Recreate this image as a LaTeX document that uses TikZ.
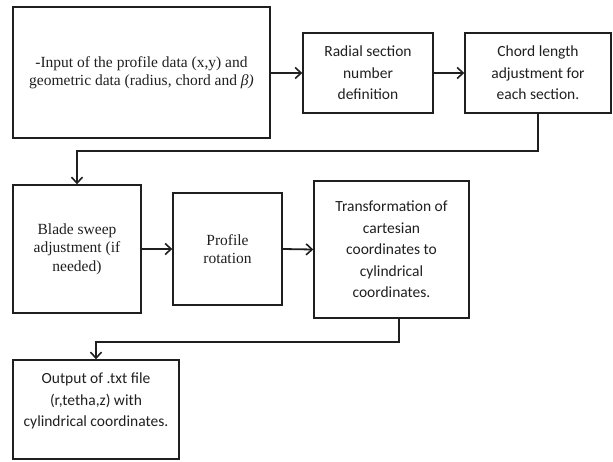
\documentclass[tikz,border=0pt]{standalone}
\usepackage{fontspec}
\setmainfont{Liberation Serif}
\newfontfamily\calib{Carlito}
\usetikzlibrary{arrows.meta}
\definecolor{ink}{gray}{0.12}
\tikzset{
  box/.style={draw=ink, line width=1.4pt, rectangle, inner sep=0pt, align=center, text=ink},
  tms/.style={font=\fontsize{15.5}{18.5}\selectfont},
  cal/.style={font=\calib\fontsize{15.5}{21.5}\selectfont},
  arr/.style={draw=ink, line width=1.8pt, -{Straight Barb[length=6pt,width=11pt,line width=1.6pt]}},
}
\begin{document}
\begin{tikzpicture}[x=1pt,y=-1pt]
\useasboundingbox (0,0) rectangle (613,461);
\node[box, tms, minimum width=257pt, minimum height=131pt] (in) at (141.5,72.5)
  {-Input of the profile data (x,y) and\\geometric data (radius, chord and \textit{β)}};
\node[box, cal, minimum width=130pt, minimum height=80pt] (rad) at (368,73)
  {Radial section\\number\\definition};
\node[box, cal, minimum width=146pt, minimum height=80pt] (chord) at (538,73)
  {Chord length\\adjustment for\\each section.};
\node[box, tms, minimum width=128pt, minimum height=128pt] (blade) at (77,249)
  {Blade sweep\\adjustment (if\\needed)};
\node[box, tms, minimum width=109pt, minimum height=112pt] (prof) at (227.5,249)
  {Profile\\rotation};
\node[box, cal, minimum width=155pt, minimum height=137pt] (trans) at (391.5,249.5)
  {Transformation of\\cartesian\\coordinates to\\cylindrical\\coordinates.};
\node[box, minimum width=166pt, minimum height=99pt] (out) at (96,409.5) {};
\node[cal, align=center, text=ink] (outtext) at (96,401)
  {Output of .txt file\\(r,tetha,z) with\\cylindrical coordinates.};
\draw[arr] (in.east |- rad.west) -- (rad.west);
\draw[arr] (rad.east) -- (chord.west);
\draw[arr] (chord.south) -- ++(0,37) -| (blade.north);
\draw[arr] (blade.east) -- (prof.west);
\draw[arr] (prof.east) -- (trans.west);
\draw[arr] ([xshift=7.5pt]trans.south) -- ++(0,23) -| (out.north);
\end{tikzpicture}
\end{document}
